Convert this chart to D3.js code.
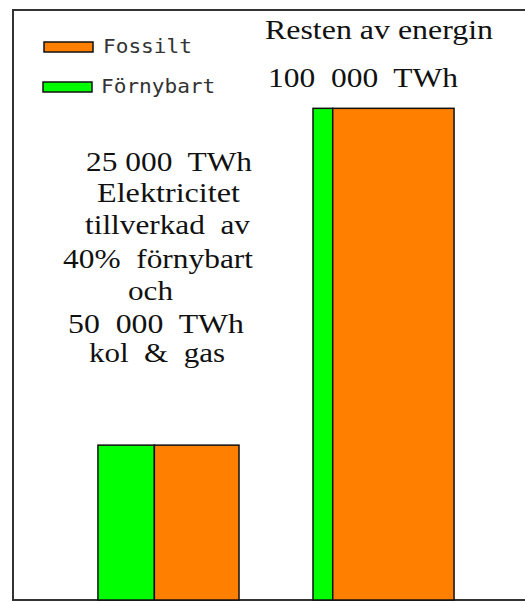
<!DOCTYPE html>
<html>
<head>
<meta charset="utf-8">
<script src="https://cdn.jsdelivr.net/npm/d3@7"></script>
<style>
  html, body { margin: 0; padding: 0; background: #fff; }
  svg text { white-space: pre; }
</style>
</head>
<body>
<svg id="chart" width="525" height="603"></svg>
<script>
// chart data
const categories = ["Elektricitet", "Resten av energin"];
const total_twh = [31500, 100000];      // bar height (TWh)
const renewable_share = [40, 14];       // % of bar width that is green
const series = ["Förnybart", "Fossilt"];
const legend_items = ["Fossilt", "Förnybart"];

const left_note = ["25 000  TWh", "Elektricitet", "tillverkad  av", "40%  förnybart", "och", "50  000  TWh", "kol  &  gas"];
const right_note = ["Resten av energin", "100  000  TWh"];

const colors = {"Fossilt": "#ff8000", "Förnybart": "#00ff00"};

const svg = d3.select("#chart");
const frame = {left: 13, top: 10, bottom: 600, right: 540};

// frame (right edge is outside the picture)
svg.append("rect")
    .attr("x", frame.left)
    .attr("y", frame.top)
    .attr("width", frame.right - frame.left)
    .attr("height", frame.bottom - frame.top)
    .style("fill", "none")
    .style("stroke", "#333")
    .style("stroke-width", 2);

const x_band = d3.scaleBand()
    .domain(categories)
    .range([frame.left, 539])
    .paddingInner(0.344)
    .paddingOuter(0.395);

const y_scale = d3.scaleLinear()
    .domain([0, 120000])
    .range([frame.bottom, frame.top]);

const bars = [];
categories.forEach((c, i) => {
    const x_share = d3.scaleLinear()
        .domain([0, 100])
        .range([x_band(c), x_band(c) + x_band.bandwidth()]);
    bars.push({cat: c, key: "Förnybart", x0: x_share(0), x1: x_share(renewable_share[i]), v: total_twh[i]});
    bars.push({cat: c, key: "Fossilt", x0: x_share(renewable_share[i]), x1: x_share(100), v: total_twh[i]});
});

svg.append("g").selectAll("rect")
    .data(bars)
    .enter()
    .append("rect")
    .attr("x", d => d.x0)
    .attr("y", d => y_scale(d.v))
    .attr("width", d => d.x1 - d.x0)
    .attr("height", d => y_scale(0) - y_scale(d.v))
    .style("fill", d => colors[d.key])
    .style("stroke", "#111")
    .style("stroke-width", 1.5);

// legend
const legend = svg.append("g");
const legend_rows = [
    {sx: 44, sy: 42, tx: 103, ty: 53},
    {sx: 43, sy: 82, tx: 101, ty: 93}
];
legend_items.forEach((name, i) => {
    const r = legend_rows[i];
    legend.append("rect")
        .attr("x", r.sx)
        .attr("y", r.sy)
        .attr("width", 49)
        .attr("height", 10)
        .style("fill", colors[name])
        .style("stroke", "#111")
        .style("stroke-width", 1.5);
    legend.append("text")
        .attr("x", r.tx)
        .attr("y", r.ty)
        .attr("textLength", name.length * 12.7)
        .attr("lengthAdjust", "spacingAndGlyphs")
        .style("font-family", "DejaVu Sans Mono, monospace")
        .style("font-size", "20px")
        .style("fill", "#333")
        .text(name);
});

// notes: [x, width, baseline]
const left_layout = [[86, 166, 171], [97, 143, 202], [85, 165, 234], [63, 190, 268], [128, 45, 300], [68, 176, 333], [89, 136, 362]];
const right_layout = [[265, 228, 39], [268, 190, 87]];

function draw_note(lines, layout){
    const g = svg.append("g");
    lines.forEach((t, i) => {
        const l = layout[i];
        g.append("text")
            .attr("x", l[0])
            .attr("y", l[2])
            .attr("textLength", l[1])
            .attr("lengthAdjust", "spacingAndGlyphs")
            .style("font-family", "Liberation Serif, Times New Roman, serif")
            .style("font-size", "27px")
            .style("fill", "#111")
            .text(t);
    });
}
draw_note(left_note, left_layout);
draw_note(right_note, right_layout);
</script>
</body>
</html>
